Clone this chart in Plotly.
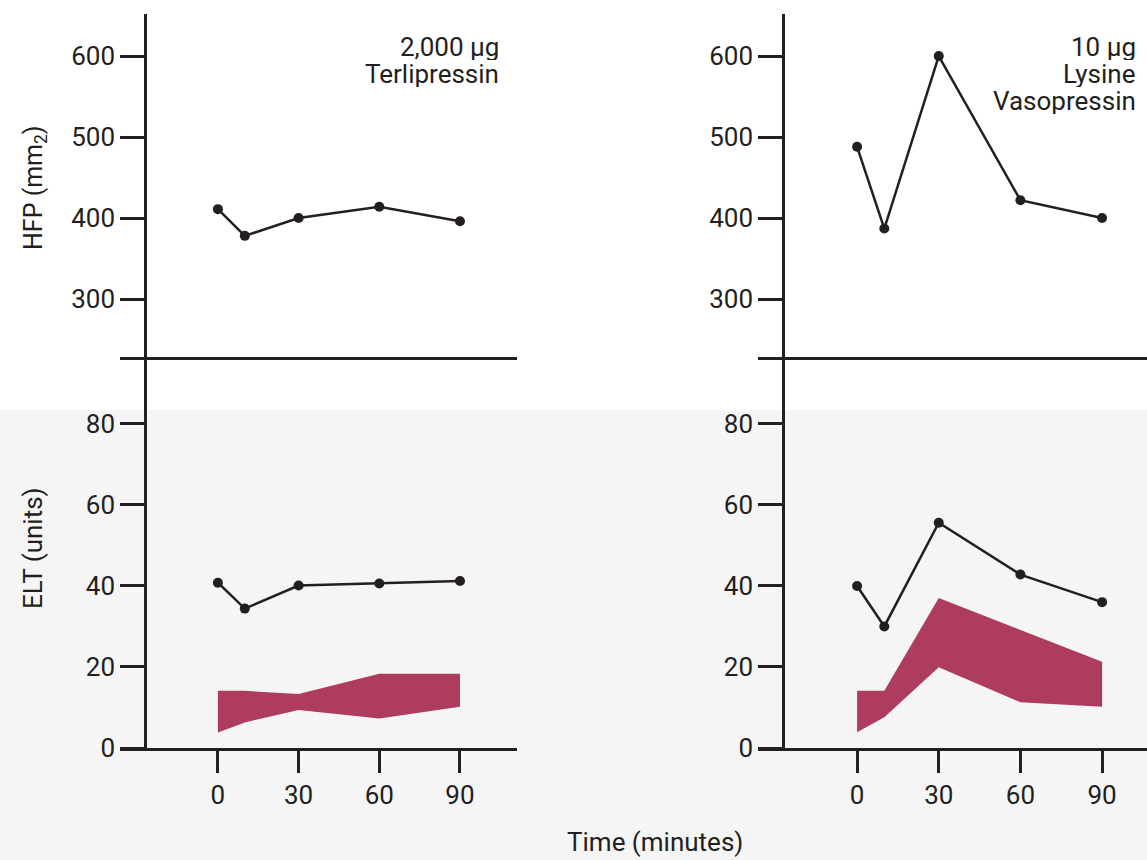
import plotly.graph_objects as go

# ---- data ----
time_min = [0, 10, 30, 60, 90]
x_ticks = [0, 30, 60, 90]

hfp_terli = [411, 378, 400, 414, 396]
hfp_lvp = [488, 387, 600, 422, 400]

elt_terli = [40.8, 34.4, 40.1, 40.6, 41.2]
elt_lvp = [40.0, 30.0, 55.6, 42.8, 36.0]

band_terli_upper = [14.1, 14.1, 13.3, 18.3, 18.3]
band_terli_lower = [3.8, 6.3, 9.4, 7.3, 10.2]
band_lvp_upper = [14.1, 14.1, 37.0, 29.2, 21.3]
band_lvp_lower = [3.9, 7.6, 19.9, 11.3, 10.2]

labels_terli = ["2,000 µg", "Terlipressin"]
labels_lvp = ["10 µg", "Lysine", "Vasopressin"]

INK = "#231f20"
BAND = "#ad3c5e"
FONT = "Roboto"
W, H = 1147, 860

fig = go.Figure()

def px_x(p):
    return p / W

def px_y(p):
    return 1 - p / H

# domains
xd_left = [px_x(120), px_x(517)]
xd_right = [px_x(758), 1.0]
yd_top = [px_y(357), px_y(14)]
yd_bot = [px_y(748), px_y(357)]

def add_line(x, y, xa, ya):
    fig.add_trace(go.Scatter(x=x, y=y, mode="lines+markers", xaxis=xa, yaxis=ya,
                             line=dict(color=INK, width=2.5),
                             marker=dict(color=INK, size=10), showlegend=False))

def add_band(x, lo, hi, xa, ya):
    fig.add_trace(go.Scatter(x=x, y=lo, mode="lines", xaxis=xa, yaxis=ya,
                             line=dict(width=0, color=BAND), showlegend=False))
    fig.add_trace(go.Scatter(x=x, y=hi, mode="lines", xaxis=xa, yaxis=ya, fill="tonexty",
                             fillcolor=BAND, line=dict(width=0, color=BAND), showlegend=False))

add_line(time_min, hfp_terli, "x", "y")
add_line(time_min, hfp_lvp, "x2", "y2")
add_band(time_min, band_terli_lower, band_terli_upper, "x3", "y3")
add_line(time_min, elt_terli, "x3", "y3")
add_band(time_min, band_lvp_lower, band_lvp_upper, "x4", "y4")
add_line(time_min, elt_lvp, "x4", "y4")

tickfont = dict(family=FONT, size=26, color=INK)

def xaxis(domain, rng, anchor, show_ticks):
    d = dict(domain=domain, range=rng, anchor=anchor, showgrid=False, zeroline=False,
             showline=True, linecolor=INK, linewidth=2.5, tickfont=tickfont,
             fixedrange=True, automargin=False)
    if show_ticks:
        d.update(tickmode="array", tickvals=x_ticks, ticks="outside", ticklen=22,
                 tickwidth=2.5, tickcolor=INK, showticklabels=True)
    else:
        d.update(ticks="", showticklabels=False)
    return d

def yaxis(domain, rng, pos, tickvals):
    return dict(domain=domain, range=rng, anchor="free", position=pos,
                showgrid=False, zeroline=False, showline=True, linecolor=INK, linewidth=2.5,
                tickmode="array", tickvals=tickvals, ticks="outside", ticklen=24,
                tickwidth=2.5, tickcolor=INK, tickfont=tickfont, fixedrange=True,
                automargin=False)

rng_left = [-36.4, 111.2]
rng_right = [-36.4, 106.5]
rng_top = [228.4, 652]
rng_bot = [0, 96.5]

fig.update_layout(
    width=W, height=H, autosize=False,
    margin=dict(l=0, r=0, t=0, b=0, pad=0, autoexpand=False),
    paper_bgcolor="white",
    plot_bgcolor="rgba(0,0,0,0)",
    font=dict(family=FONT, color=INK),
    xaxis=xaxis(xd_left, rng_left, "y", False),
    xaxis2=xaxis(xd_right, rng_right, "y2", False),
    xaxis3=xaxis(xd_left, rng_left, "y3", True),
    xaxis4=xaxis(xd_right, rng_right, "y4", True),
    yaxis=yaxis(yd_top, rng_top, px_x(145), [300, 400, 500, 600]),
    yaxis2=yaxis(yd_top, rng_top, px_x(783), [300, 400, 500, 600]),
    yaxis3=yaxis(yd_bot, rng_bot, px_x(145), [0, 20, 40, 60, 80]),
    yaxis4=yaxis(yd_bot, rng_bot, px_x(783), [0, 20, 40, 60, 80]),
)

# light grey lower background
fig.add_shape(type="rect", xref="paper", yref="paper", x0=0, x1=1, y0=0, y1=px_y(410),
              fillcolor="#f5f5f5", line=dict(width=0), layer="below")

ann_font = dict(family=FONT, size=26, color=INK)
for i, t in enumerate(labels_terli):
    fig.add_annotation(text=t, xref="paper", yref="paper", x=px_x(501), y=px_y(47 + 27 * i),
                       xanchor="right", yanchor="middle", showarrow=False, font=ann_font,
                       height=26, valign="middle")
for i, t in enumerate(labels_lvp):
    fig.add_annotation(text=t, xref="paper", yref="paper", x=px_x(1138), y=px_y(47 + 27 * i),
                       xanchor="right", yanchor="middle", showarrow=False, font=ann_font,
                       height=26, valign="middle")

fig.add_annotation(text="HFP (mm<sub>2</sub>)", xref="paper", yref="paper", x=px_x(35), y=px_y(188),
                   xanchor="center", yanchor="middle",
                   textangle=-90, showarrow=False, font=dict(family=FONT, size=25, color=INK))
fig.add_annotation(text="ELT (units)", xref="paper", yref="paper", x=px_x(33), y=px_y(548),
                   xanchor="center", yanchor="middle",
                   textangle=-90, showarrow=False, font=dict(family=FONT, size=26, color=INK))
fig.add_annotation(text="Time (minutes)", xref="paper", yref="paper", x=px_x(655), y=px_y(842),
                   xanchor="center", yanchor="middle",
                   showarrow=False, font=dict(family=FONT, size=26, color=INK))

fig.write_html(
    "out.html",
    config={"responsive": False, "displayModeBar": False},
    post_script="document.body.style.margin='0';document.body.style.overflow='hidden';",
)
